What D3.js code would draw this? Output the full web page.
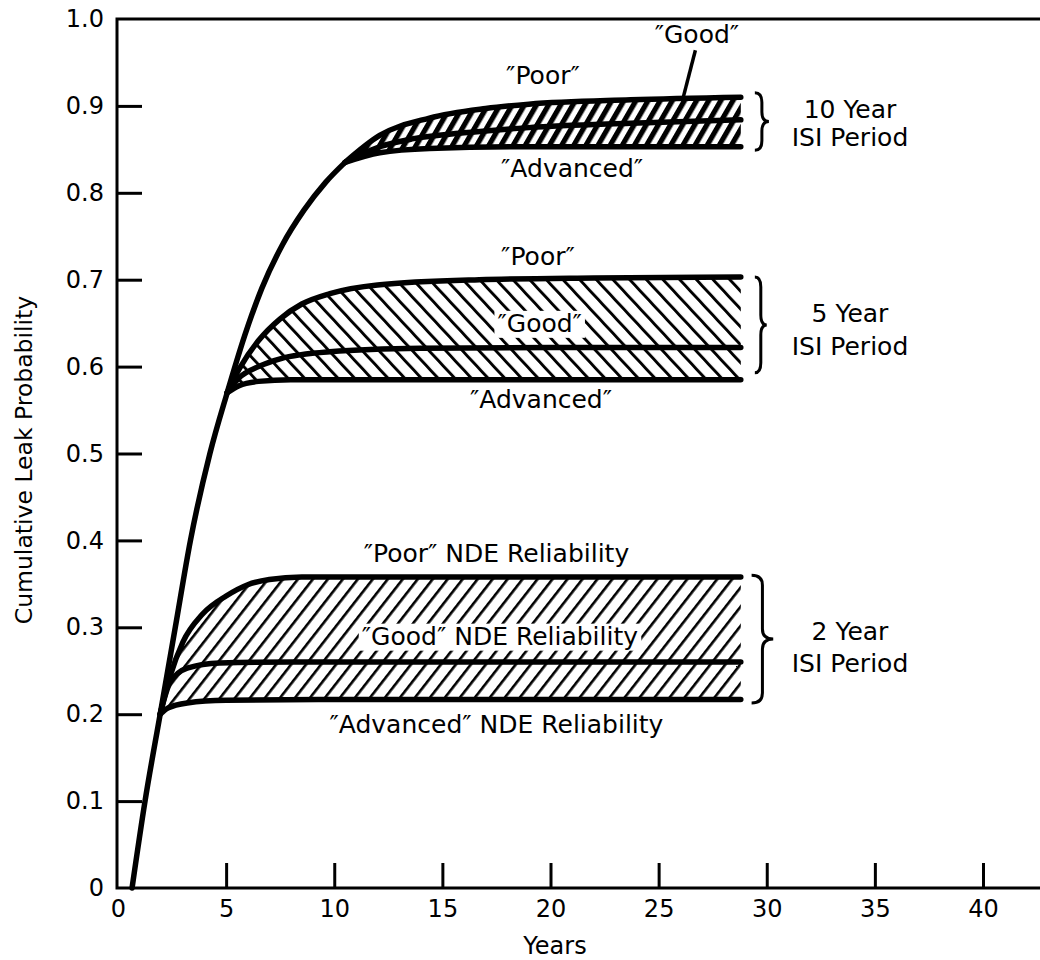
<!DOCTYPE html>
<html><head><meta charset="utf-8">
<script src="https://cdn.jsdelivr.net/npm/d3@7"></script>
<style>
body{margin:0;background:#fff}
svg{display:block}
text{font-family:"DejaVu Sans",sans-serif;fill:#000}
</style>
</head><body>
<svg id="c" width="1040" height="960"></svg>
<script>
// ---------- data ----------
const xTicks = [0,5,10,15,20,25,30,35,40];
const yTicks = [0,0.1,0.2,0.3,0.4,0.5,0.6,0.7,0.8,0.9,1.0];

// no-ISI trunk curve
const trunkYears = [0.65,1.25,1.95,2.65,3.35,4.25,5.05,5.85,6.65,7.6,8.6,9.6,10.5];
const trunkProb  = [0,0.10,0.20,0.30,0.40,0.50,0.57,0.635,0.69,0.74,0.78,0.812,0.835];

// 2 year ISI period
const poor2Years = [1.95,2.4,3.0,3.9,5.0,6.0,7.0,8.5,10,28.8];
const poor2Prob  = [0.20,0.243,0.283,0.315,0.336,0.349,0.355,0.358,0.358,0.358];
const good2Years = [1.95,2.4,3.2,4.7,8,28.8];
const good2Prob  = [0.20,0.236,0.253,0.259,0.26,0.26];
const adv2Years  = [1.95,2.3,3.2,5,10,28.8];
const adv2Prob   = [0.20,0.207,0.213,0.216,0.217,0.217];

// 5 year ISI period
const poor5Years = [5.05,5.6,6.5,7.5,8.5,9.8,12,16.7,22,28.8];
const poor5Prob  = [0.57,0.597,0.630,0.655,0.672,0.684,0.694,0.700,0.702,0.703];
const good5Years = [5.05,5.6,6.5,7.5,9.8,14,20,28.8];
const good5Prob  = [0.57,0.587,0.600,0.609,0.617,0.621,0.622,0.622];
const adv5Years  = [5.05,5.6,6.5,8,12,28.8];
const adv5Prob   = [0.57,0.578,0.583,0.585,0.585,0.585];

// 10 year ISI period
const poor10Years = [10.5,12.1,14.4,17,19,23.7,28.8];
const poor10Prob  = [0.835,0.866,0.886,0.897,0.902,0.907,0.910];
const good10Years = [10.5,12.1,13.6,16,19,23.7,28.8];
const good10Prob  = [0.835,0.853,0.862,0.869,0.875,0.880,0.884];
const adv10Years  = [10.5,12.1,14.4,19,28.8];
const adv10Prob   = [0.835,0.846,0.851,0.853,0.853];

const xTitle = "Years";
const yTitle = "Cumulative Leak Probability";

// ---------- chart ----------
const svg = d3.select("#c");
const x = d3.scaleLinear().domain([0,40]).range([118,983]);
const y = d3.scaleLinear().domain([0,1]).range([888,19]);
const W = 1040;

const defs = svg.append("defs");
function hatch(id, w, lw, angle){
  const p = defs.append("pattern").attr("id",id)
    .attr("patternUnits","userSpaceOnUse")
    .attr("width",w).attr("height",10)
    .attr("patternTransform",`rotate(${angle})`);
  p.append("rect").attr("x",0).attr("y",0).attr("width",lw).attr("height",10).attr("fill","#000");
}
hatch("h2", 11.8, 2.6, 38);
hatch("h5", 12.2, 2.9, -43);
hatch("h10", 10.5, 5.2, 30);

const pts = (xs, ys) => xs.map((v,i)=>[v, ys[i]]);
const line = d3.line().x(d=>x(d[0])).y(d=>y(d[1])).curve(d3.curveMonotoneX);
function bandPath(upper, lower){
  const a = line(upper);
  const b = line(lower.slice().reverse());
  return a + "L" + b.slice(1) + "Z";
}

const bands = [
  {id:"h2", poor:pts(poor2Years,poor2Prob), good:pts(good2Years,good2Prob), adv:pts(adv2Years,adv2Prob)},
  {id:"h5", poor:pts(poor5Years,poor5Prob), good:pts(good5Years,good5Prob), adv:pts(adv5Years,adv5Prob)},
  {id:"h10", poor:pts(poor10Years,poor10Prob), good:pts(good10Years,good10Prob), adv:pts(adv10Years,adv10Prob)}
];

const gFill = svg.append("g");
const gBg = svg.append("g");
const gLines = svg.append("g");
const gText = svg.append("g");

bands.forEach(b=>{
  gFill.append("path").attr("d", bandPath(b.poor, b.adv)).attr("fill", `url(#${b.id})`);
});

// axes
const yAxis = d3.axisLeft(y).tickValues(yTicks).tickSizeInner(-25).tickSizeOuter(0).tickPadding(13)
  .tickFormat(d => d===0 ? "0" : d3.format(".1f")(d));
const xAxis = d3.axisBottom(x).tickValues(xTicks).tickSizeInner(-25).tickSizeOuter(0).tickPadding(12)
  .tickFormat(d3.format("d"));

const gy = svg.append("g").attr("transform","translate(117,0)").call(yAxis);
const gx = svg.append("g").attr("transform","translate(0,888)").call(xAxis);
[gx, gy].forEach(g=>{
  g.select(".domain").remove();
  g.selectAll(".tick line").attr("stroke","#000").attr("stroke-width",3)
    .attr("opacity", d => (d===0 || d===1) ? 0 : 1);
  g.selectAll(".tick text").attr("font-size",24).attr("font-family","DejaVu Sans, sans-serif").attr("fill","#000");
});

// frame lines
svg.append("path").attr("d",`M117,${y(1)} L${W},${y(1)} M117,${y(1)-1.5} L117,${y(0)+1.5} M117,${y(0)} L${W},${y(0)}`)
  .attr("stroke","#000").attr("stroke-width",3).attr("fill","none");

// curves
const lineStyle = s => s.attr("fill","none").attr("stroke","#000").attr("stroke-width",5.5)
  .attr("stroke-linecap","round").attr("stroke-linejoin","round");
gLines.append("path").attr("d", line(pts(trunkYears,trunkProb))).call(lineStyle);
bands.forEach(b=>{
  ["poor","good","adv"].forEach(k=>{
    gLines.append("path").attr("d", line(b[k])).call(lineStyle);
  });
});

// titles
svg.append("text").attr("x",555).attr("y",954).attr("text-anchor","middle").attr("font-size",24).text(xTitle);
svg.append("text").attr("transform","translate(32,460) rotate(-90)").attr("text-anchor","middle").attr("font-size",23.5).text(yTitle);

// annotations
const notes = [
  {t:"\u2033Poor\u2033", yr:19.65, p:0.925},
  {t:"\u2033Good\u2033", yr:26.77, p:0.972},
  {t:"\u2033Advanced\u2033", yr:21.0, p:0.818},
  {t:"10 Year", yr:33.85, p:0.886},
  {t:"ISI Period", yr:33.85, p:0.854},
  {t:"\u2033Poor\u2033", yr:19.42, p:0.717},
  {t:"\u2033Good\u2033", yr:19.5, p:0.640, bg:true},
  {t:"\u2033Advanced\u2033", yr:19.56, p:0.552},
  {t:"5 Year", yr:33.85, p:0.651},
  {t:"ISI Period", yr:33.85, p:0.613},
  {t:"\u2033Poor\u2033 NDE Reliability", yr:17.5, p:0.375},
  {t:"\u2033Good\u2033 NDE Reliability", yr:17.66, p:0.280, bg:true},
  {t:"\u2033Advanced\u2033 NDE Reliability", yr:17.5, p:0.178},
  {t:"2 Year", yr:33.85, p:0.285},
  {t:"ISI Period", yr:33.85, p:0.249}
];
notes.forEach(n=>{
  const t = gText.append("text").attr("x",x(n.yr)).attr("y",y(n.p)).attr("text-anchor","middle")
    .attr("font-size",25).text(n.t);
  if(n.bg){
    const bb = t.node().getBBox();
    gBg.append("rect").attr("x",bb.x-3).attr("y",bb.y+2).attr("width",bb.width+6).attr("height",bb.height-2).attr("fill","#fff");
  }
});

// leader line for 10-year "Good"
gText.append("line").attr("x1",x(26.7)).attr("y1",y(0.964)).attr("x2",x(26.15)).attr("y2",y(0.911))
  .attr("stroke","#000").attr("stroke-width",3.5);

// braces
function brace(x0, x1, yTop, yBot){
  const xm = (x0+x1)/2, ym = (yTop+yBot)/2, q = Math.min(10,(yBot-yTop)/6);
  return `M${x0},${yTop} Q${xm},${yTop} ${xm},${yTop+q} L${xm},${ym-q} Q${xm},${ym} ${x1},${ym}`+
         ` Q${xm},${ym} ${xm},${ym+q} L${xm},${yBot-q} Q${xm},${yBot} ${x0},${yBot}`;
}
const braces = [
  {x0:29.45, x1:30.1, top:0.915, bot:0.849},
  {x0:29.45, x1:30.0, top:0.703, bot:0.593},
  {x0:29.3, x1:30.3, top:0.360, bot:0.213}
];
braces.forEach(b=>{
  gText.append("path").attr("d", brace(x(b.x0), x(b.x1), y(b.top), y(b.bot)))
    .attr("fill","none").attr("stroke","#000").attr("stroke-width",3);
});
</script>
</body></html>
